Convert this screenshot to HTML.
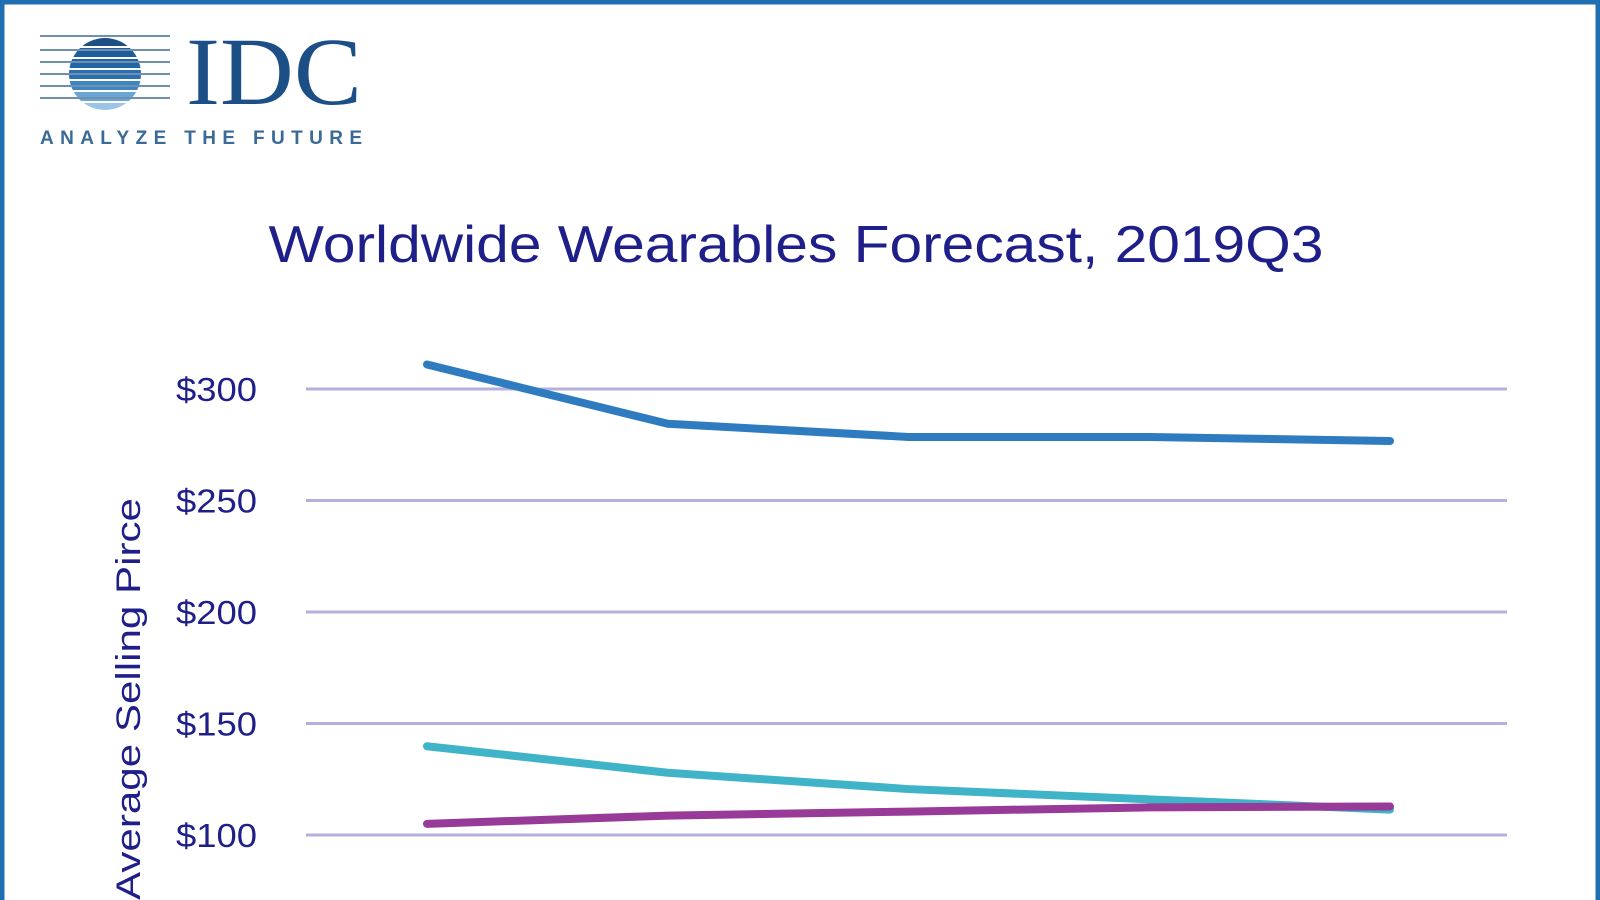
<!DOCTYPE html>
<html><head><meta charset="utf-8"><style>
body{margin:0;background:#fff}
#c{position:relative;width:1600px;height:900px;overflow:hidden;background:#fff}
</style></head><body>
<div id="c">
<svg width="1600" height="900" xmlns="http://www.w3.org/2000/svg">
<rect x="2" y="2" width="1596" height="905" fill="none" stroke="#1f6fb0" stroke-width="5"/>
<g>
<defs><clipPath id="gc"><circle cx="105" cy="74" r="36"/></clipPath></defs>
<g clip-path="url(#gc)">
<rect x="60" y="36" width="90" height="10" fill="#1c4f86"/>
<rect x="60" y="48" width="90" height="9" fill="#1d5d99"/>
<rect x="60" y="59" width="90" height="9" fill="#2366a6"/>
<rect x="60" y="70" width="90" height="9" fill="#2a70b0"/>
<rect x="60" y="81" width="90" height="9" fill="#3f86c0"/>
<rect x="60" y="92" width="90" height="9" fill="#6aa5d3"/>
<rect x="60" y="103" width="90" height="9" fill="#9cc4e4"/>
</g>
<g stroke="#6f8fb0" stroke-width="2">
<line x1="40" y1="36" x2="170" y2="36"/><line x1="40" y1="50" x2="170" y2="50"/><line x1="40" y1="62" x2="170" y2="62"/><line x1="40" y1="74" x2="170" y2="74"/><line x1="40" y1="86" x2="170" y2="86"/><line x1="40" y1="98" x2="170" y2="98"/>
</g>
<text x="186" y="104" font-family="Liberation Serif, serif" font-size="96" fill="#1c4f86" textLength="176" lengthAdjust="spacingAndGlyphs">IDC</text>
<text x="40" y="144" font-family="Liberation Sans, sans-serif" font-size="19" font-weight="bold" fill="#3a6a96" textLength="322" lengthAdjust="spacing">ANALYZE THE FUTURE</text>
</g>
<text x="796" y="262" text-anchor="middle" font-family="Liberation Sans, sans-serif" font-size="52" fill="#1f1f8a" textLength="1055" lengthAdjust="spacingAndGlyphs">Worldwide Wearables Forecast, 2019Q3</text>
<text transform="translate(140,900) rotate(-90)" font-family="Liberation Sans, sans-serif" font-size="34" fill="#1f1f8a" textLength="402" lengthAdjust="spacingAndGlyphs">Average Selling Pirce</text>
<g id="grid"></g><g id="ticks"></g><g id="lines"></g>
</svg>
</div>
<script>
const categories=["2019","2020","2021","2022","2023"];
const tickValues=[100,150,200,250,300];
const tickLabels=["$100","$150","$200","$250","$300"];
const smartwatch=[311,284.4,278.5,278.5,276.7];
const wristband=[139.8,127.9,120.6,116,111.4];
const other=[105,108.7,110.5,112.4,112.8];
const seriesColors=["#2f7bbf","#3fb3c8","#983a98"];
const NS="http://www.w3.org/2000/svg";
function y(v){return 835-(v-100)*(835-389)/200;}
function x(i){return 427+i*(1390-427)/(categories.length-1);}
const grid=document.getElementById('grid'),ticks=document.getElementById('ticks'),lines=document.getElementById('lines');
tickValues.forEach((v,i)=>{
const l=document.createElementNS(NS,'line');
l.setAttribute('x1',306);l.setAttribute('x2',1507);l.setAttribute('y1',y(v));l.setAttribute('y2',y(v));
l.setAttribute('stroke','#b4b0dc');l.setAttribute('stroke-width','3');


grid.appendChild(l);
const t=document.createElementNS(NS,'text');
t.setAttribute('x',176);t.setAttribute('y',y(v)+12);
t.setAttribute('textLength','81');t.setAttribute('lengthAdjust','spacingAndGlyphs');
t.setAttribute('font-family','Liberation Sans, sans-serif');t.setAttribute('font-size','33');t.setAttribute('fill','#1f1f8a');
t.textContent=tickLabels[i];


ticks.appendChild(t);
});
[smartwatch,wristband,other].forEach((s,k)=>{
const p=document.createElementNS(NS,'polyline');
p.setAttribute('points',s.map((v,i)=>x(i)+','+y(v)).join(' '));
p.setAttribute('fill','none');p.setAttribute('stroke',seriesColors[k]);p.setAttribute('stroke-width','8');
p.setAttribute('stroke-linecap','round');p.setAttribute('stroke-linejoin','round');


lines.appendChild(p);
});
</script>
</body></html>
